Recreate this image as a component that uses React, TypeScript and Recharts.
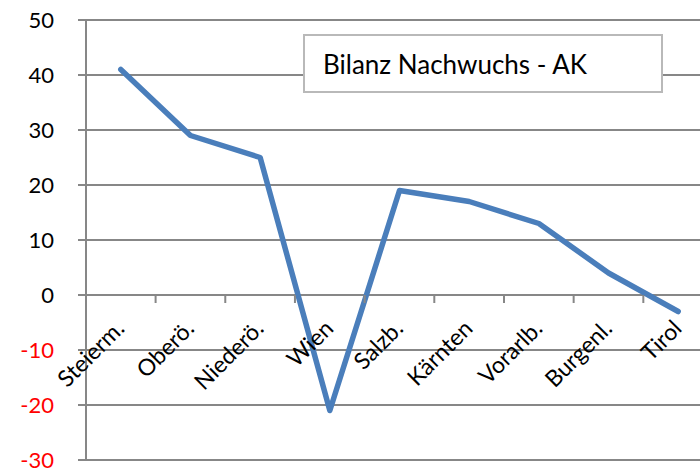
import { LineChart, Line, XAxis, YAxis, CartesianGrid, Legend } from "recharts";

const regions = ["Steierm.", "Oberö.", "Niederö.", "Wien", "Salzb.", "Kärnten", "Vorarlb.", "Burgenl.", "Tirol"];
const balance = [41, 29, 25, -21, 19, 17, 13, 4, -3];
const yTicks = [-30, -20, -10, 0, 10, 20, 30, 40, 50];
const seriesName = "Bilanz Nachwuchs - AK";

const data = regions.map((name, i) => ({ name, value: balance[i] }));

const FONT = "Lato, 'Open Sans', sans-serif";
const GRID = "#878787";
const LINE = "#4a7ebb";

const W = 720;
const H = 471;
const TOP = 20;
const BOTTOM = 11;
const PLOT_H = H - TOP - BOTTOM;
const Y_MIN = -30;
const Y_MAX = 50;
const ZERO_Y = TOP + (PLOT_H * Y_MAX) / (Y_MAX - Y_MIN);
const HALF = 34.8;

const YTick = ({ x, y, payload }: any) => (
  <text
    x={x}
    y={y}
    dy="0.355em"
    textAnchor="end"
    fontSize={22}
    fontFamily={FONT}
    fill={payload.value < 0 ? "#ff0000" : "#000"}
  >
    {payload.value}
  </text>
);

const CatTick = ({ x, payload }: any) => {
  const ax = x + 5;
  const ay = ZERO_Y + 35;
  return (
    <g>
      <line x1={x + HALF} x2={x + HALF} y1={ZERO_Y} y2={ZERO_Y + 8} stroke={GRID} strokeWidth={2} />
      <text
        x={ax}
        y={ay}
        transform={`rotate(-45 ${ax} ${ay})`}
        textAnchor="end"
        fontSize={23}
        fontFamily={FONT}
        fill="#000"
      >
        {payload.value}
      </text>
    </g>
  );
};

const LegendBox = () => (
  <div
    style={{
      boxSizing: "border-box",
      width: 360,
      height: 59,
      border: "2px solid #b9b9b9",
      background: "#fff",
      display: "flex",
      alignItems: "center",
      paddingLeft: 18,
      fontFamily: FONT,
      fontSize: 26,
      color: "#000",
    }}
  >
    {seriesName}
  </div>
);

export default function App() {
  return (
    <div style={{ position: "absolute", left: 0, top: 0, width: 700, height: 471, overflow: "hidden", background: "#fff" }}>
      <LineChart width={W} height={H} data={data} margin={{ top: TOP, right: 7, bottom: BOTTOM - 1, left: 0 }}>
        <CartesianGrid vertical={false} stroke={GRID} strokeWidth={2} />
        <XAxis
          dataKey="name"
          height={1}
          axisLine={false}
          tickLine={false}
          interval={0}
          padding={{ left: HALF, right: HALF }}
          tick={<CatTick />}
        />
        <YAxis
          width={86}
          domain={[Y_MIN, Y_MAX]}
          ticks={yTicks}
          interval={0}
          axisLine={{ stroke: GRID, strokeWidth: 2 }}
          tickLine={{ stroke: GRID, strokeWidth: 2 }}
          tickSize={8}
          tickMargin={24}
          tick={<YTick />}
        />
        <Legend
          layout="horizontal"
          verticalAlign="middle"
          align="center"
          wrapperStyle={{ left: 303, top: 34, width: 360, height: 59 }}
          content={<LegendBox />}
        />
        <Line
          type="linear"
          dataKey="value"
          name={seriesName}
          stroke={LINE}
          strokeWidth={5.5}
          strokeLinejoin="round"
          strokeLinecap="round"
          dot={false}
          activeDot={false}
          isAnimationActive={false}
        />
      </LineChart>
    </div>
  );
}
